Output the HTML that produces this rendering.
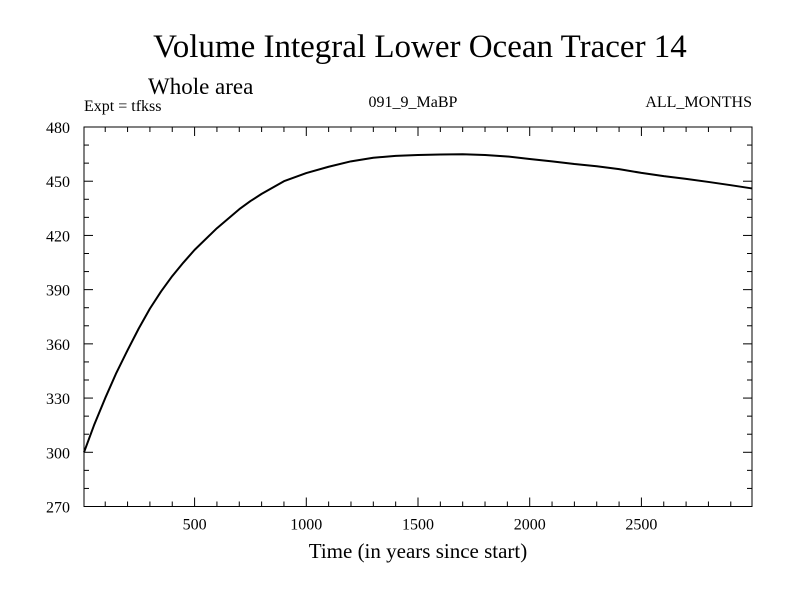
<!DOCTYPE html>
<html><head><meta charset="utf-8"><style>
body{margin:0;background:#fff}
svg text{font-family:"Liberation Serif",serif;fill:#000}
</style></head><body>
<svg width="800" height="600">
<text x="420" y="57" font-size="33" text-anchor="middle">Volume Integral Lower Ocean Tracer 14</text>
<text x="148" y="94" font-size="23">Whole area</text>
<text x="84" y="111" font-size="16">Expt = tfkss</text>
<text x="413" y="107" font-size="16" text-anchor="middle">091_9_MaBP</text>
<text x="752" y="107" font-size="16" text-anchor="end">ALL_MONTHS</text>
<g id="axes"></g>
<text x="418" y="558" font-size="21" text-anchor="middle">Time (in years since start)</text>
</svg>
<script>
const years=[5,50,100,150,200,250,300,350,400,450,500,600,700,750,800,900,1000,1100,1200,1300,1400,1500,1600,1700,1800,1900,2000,2100,2200,2300,2400,2500,2600,2700,2800,2900,2995];
const values=[300,315,330,344,356.5,368.5,379.5,389,397.5,405,412,424,434.5,439,443,450,454.5,458,461,463,464,464.5,464.8,464.9,464.5,463.7,462.3,461,459.5,458.3,456.7,454.6,452.8,451.3,449.6,447.8,446];
const xTicks=[500,1000,1500,2000,2500];
const yTicks=[270,300,330,360,390,420,450,480];
const L=84,R=752,T=127,B=506.5,x0=5,x1=2995,y0=270,y1=480;
const X=v=>L+(v-x0)/(x1-x0)*(R-L), Y=v=>B-(v-y0)/(y1-y0)*(B-T);
const g=document.getElementById('axes'),NS='http://www.w3.org/2000/svg';
function mk(t,a){const e=document.createElementNS(NS,t);for(const k in a)e.setAttribute(k,a[k]);g.appendChild(e);return e;}
const f=mk('rect',{x:L,y:T,width:R-L,height:B-T,fill:'none',stroke:'#000','stroke-width':1});


for(let v=100;v<x1;v+=100){const big=v%500==0,h=big?9:5;
mk('line',{x1:X(v),x2:X(v),y1:B,y2:B-h,stroke:'#000'});mk('line',{x1:X(v),x2:X(v),y1:T,y2:T+h,stroke:'#000'});}
for(let v=y0;v<=y1;v+=10){const big=(v-y0)%30==0,h=big?9:5;
mk('line',{x1:L,x2:L+h,y1:Y(v),y2:Y(v),stroke:'#000'});mk('line',{x1:R,x2:R-h,y1:Y(v),y2:Y(v),stroke:'#000'});}
xTicks.forEach(v=>{const t=mk('text',{x:X(v),y:B+23,'font-size':16,'text-anchor':'middle'});t.textContent=v;

});
yTicks.forEach(v=>{const t=mk('text',{x:L-14,y:Y(v)+6,'font-size':16,'text-anchor':'end'});t.textContent=v;

});
const p=mk('polyline',{points:years.map((v,i)=>X(v)+','+Y(values[i])).join(' '),fill:'none',stroke:'#000','stroke-width':2,'stroke-linejoin':'round'});


</script>
</body></html>
